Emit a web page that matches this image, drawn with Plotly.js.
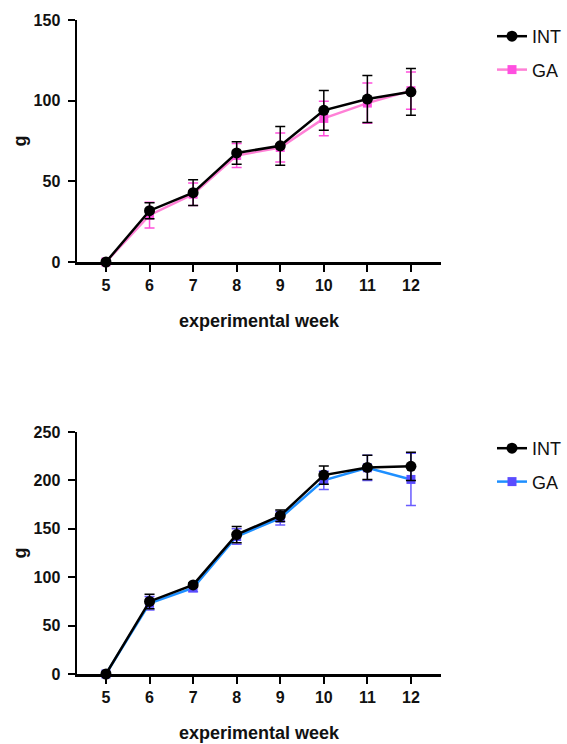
<!DOCTYPE html>
<html>
<head>
<meta charset="utf-8">
<script src="https://cdn.plot.ly/plotly-3.0.1.min.js"></script>
<style>html,body{margin:0;padding:0;background:#fff;}#chart{width:567px;height:744px;}</style>
</head>
<body>
<div id="chart"></div>
<script>
// Data
var weeks = [5, 6, 7, 8, 9, 10, 11, 12];

// Top panel
var topINT = [0, 31.8, 43, 67.6, 72, 94, 101, 105.5];
var topINTerr = [0, 5, 8, 7, 12, 12.3, 14.6, 14.5];
var topGA = [0, 29, 42, 66, 71, 89, 98.5, 106.2];
var topGAerr = [0, 8, 7, 7.5, 9, 10.7, 12.5, 11.5];

// Bottom panel
var botINT = [0, 75, 92, 144, 163.5, 205.5, 213.4, 214.5];
var botINTerr = [0, 7.5, 2, 8.5, 6, 9.5, 12.5, 14.7];
var botGA = [0, 73, 89, 142, 161, 200, 213, 201];
var botGAerr = [0, 7, 4, 8, 7, 9.5, 13, 27];

var seriesNames = ['INT', 'GA'];
var tickLabels = ['5', '6', '7', '8', '9', '10', '11', '12'];

var FONT = 'Liberation Sans, Arial, sans-serif';

function tr(x, y, err, name, rank, xa, ya, leg, lineColor, markerColor, errColor, symbol, size) {
  return {
    type: 'scatter', mode: 'lines+markers', x: x, y: y, name: name,
    xaxis: xa, yaxis: ya, legend: leg, legendgroup: leg + name, legendrank: rank,
    cliponaxis: false,
    line: {color: lineColor, width: 2.5},
    marker: {color: markerColor, symbol: symbol, size: size, line: {width: 0}},
    error_y: {type: 'data', array: err, visible: true, color: errColor, thickness: 1.5, width: 5}
  };
}

var data = [
  tr(weeks, topGA, topGAerr, seriesNames[1], 2, 'x', 'y', 'legend', '#ff80d6', '#ff4fe0', '#ff4fdc', 'square', 9),
  tr(weeks, topINT, topINTerr, seriesNames[0], 1, 'x', 'y', 'legend', '#000000', '#000000', '#000000', 'circle', 11),
  tr(weeks, botGA, botGAerr, seriesNames[1], 2, 'x2', 'y2', 'legend2', '#1e8fff', '#5a4cff', '#6a5cff', 'square', 9),
  tr(weeks, botINT, botINTerr, seriesNames[0], 1, 'x2', 'y2', 'legend2', '#000000', '#000000', '#000000', 'circle', 11)
];

function xax(domainAnchor) {
  return {
    domain: [77/567, 441/567], anchor: domainAnchor,
    range: [4.335, 12.69], tickvals: weeks, ticktext: tickLabels,
    showline: true, linewidth: 2.5, linecolor: '#000', showgrid: false, zeroline: false,
    ticks: 'outside', ticklen: 7, tickwidth: 2, tickcolor: '#000',
    tickfont: {family: FONT, size: 16, color: '#111', weight: 'bold'},
    title: {text: 'experimental week', font: {family: FONT, size: 18, color: '#111', weight: 'bold'}, standoff: 22}
  };
}
function yax(domain, anchor, range, dtick) {
  return {
    domain: domain, anchor: anchor, range: range, dtick: dtick, tick0: 0,
    showline: true, linewidth: 2.5, linecolor: '#000', showgrid: false, zeroline: false,
    ticks: 'outside', ticklen: 7, tickwidth: 2, tickcolor: '#000', ticklabelstandoff: 4,
    tickfont: {family: FONT, size: 16, color: '#111', weight: 'bold'},
    title: {text: 'g', font: {family: FONT, size: 18, color: '#111', weight: 'bold'}, standoff: 3}
  };
}

function leg(y) {
  return {
    x: 492/567, y: y, xanchor: 'left', yanchor: 'top', xref: 'paper', yref: 'paper',
    traceorder: 'grouped', tracegroupgap: 7, bgcolor: 'rgba(0,0,0,0)',
    font: {family: FONT, size: 18, color: '#111'}
  };
}

var layout = {
  width: 567, height: 744,
  margin: {l: 0, r: 0, t: 0, b: 0},
  paper_bgcolor: '#fff', plot_bgcolor: '#fff',
  showlegend: true,
  xaxis: xax('y'),
  yaxis: yax([(744-262)/744, (744-20)/744], 'x', [0, 150], 50),
  xaxis2: xax('y2'),
  yaxis2: yax([(744-674)/744, (744-432)/744], 'x2', [0, 250], 50),
  legend: leg((744-18)/744),
  legend2: leg((744-430)/744)
};

Plotly.newPlot('chart', data, layout, {displayModeBar: false, staticPlot: true});
</script>
</body>
</html>
